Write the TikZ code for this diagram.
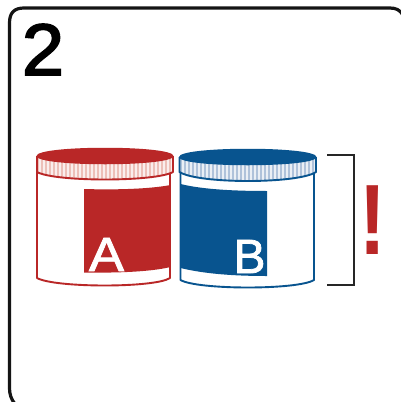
\documentclass[tikz,border=0pt]{standalone}
\usepackage{fontspec}
\setmainfont{Liberation Sans}
\newfontfamily\medfont[FakeBold=1.6]{Liberation Sans}
\newfontfamily\numfont[FakeBold=2.4]{Liberation Sans}
\definecolor{jarred}{HTML}{B92727}
\definecolor{jarblue}{HTML}{08548F}
\definecolor{ribred}{HTML}{EDBFB8}
\definecolor{ribblue}{HTML}{AFC2DA}
\tikzset{
  x=1pt,y=-1pt,
  frameline/.style={line width=3.2pt,draw=black!92},
  jarline/.style={line width=1.9pt,line join=round},
  bracketline/.style={line width=2.3pt,draw=black!85},
  jarletter/.style={white,inner sep=0pt,font=\medfont\fontsize{48}{48}\selectfont},
  ribline/.style={white,line width=1.1pt,opacity=.75},
}
\begin{document}
\begin{tikzpicture}
\useasboundingbox (0,0) rectangle (401,402);
\fill[white] (0,0) rectangle (401,402);
\begin{scope}
\clip (0,0) rectangle (401,402);
\draw[frameline] (15,404) .. controls (11,399) and (9.5,394) .. (9.5,388) -- (9.5,23) .. controls (9.5,13) and (14,8) .. (24,8) -- (390,8) .. controls (396,8) and (400,10) .. (403,15);
\end{scope}
\node[inner sep=0pt,anchor=base,xscale=1.04,font=\numfont\fontsize{73}{73}\selectfont] (num) at (43,75) {2};
% red jar
\draw[jarred,jarline] (37,170) -- (37,278) .. controls (55,288) and (155,288) .. (170,278) -- (170,170);
\fill[jarred] (84,189) .. controls (115,190) and (150,189) .. (170.5,185) -- (170.5,267) .. controls (150,272) and (115,273) .. (84,272.5) -- cycle;
\begin{scope}
\clip (37,156) -- (37,172) .. controls (55,182) and (155,182) .. (173,172) -- (173,156) -- cycle;
\fill[ribred] (37,150) rectangle (173,182);
\foreach \x in {40,44,...,172} \draw[ribline] (\x,156) -- (\x,182);
\end{scope}
\draw[jarred,jarline] (37,156) -- (37,172) .. controls (55,182) and (155,182) .. (173,172) -- (173,156);
\fill[jarred] (36.5,156) .. controls (36.5,145) and (173.5,145) .. (173.5,156) .. controls (173.5,167) and (36.5,167) .. (36.5,156) -- cycle;
\node[jarletter,anchor=base,xscale=1.1] (la) at (106.5,271) {A};
% blue jar
\draw[jarblue,jarline] (180.5,170) -- (180.5,280) .. controls (198,290) and (298,290) .. (314,280) -- (314,170);
\fill[jarblue] (180.5,184) .. controls (205,190) and (240,191) .. (267,191) -- (267,276) .. controls (235,276) and (205,274) .. (180.5,268) -- cycle;
\begin{scope}
\clip (179.5,157) -- (179.5,172) .. controls (198,184) and (298,184) .. (316,172) -- (316,157) -- cycle;
\fill[ribblue] (179,150) rectangle (316,184);
\foreach \x in {183,187,...,315} \draw[ribline] (\x,157) -- (\x,184);
\end{scope}
\draw[jarblue,jarline] (179.5,157) -- (179.5,172) .. controls (198,184) and (298,184) .. (316,172) -- (316,157);
\fill[jarblue] (179,157) .. controls (179,146) and (316.5,146) .. (316.5,157) .. controls (316.5,168) and (179,168) .. (179,157) -- cycle;
\node[jarletter,anchor=base] (lb) at (249.5,273) {B};
% bracket
\coordinate (bt) at (327,155);
\coordinate (bb) at (327,285);
\draw[bracketline] (bt) -- (354,155) -- (354,285) -- (bb);
% exclamation
\node[inner sep=0pt,anchor=base,xscale=.8,text=jarred,font=\bfseries\fontsize{100}{100}\selectfont] (ex) at (373,254) {!};
\end{tikzpicture}
\end{document}
